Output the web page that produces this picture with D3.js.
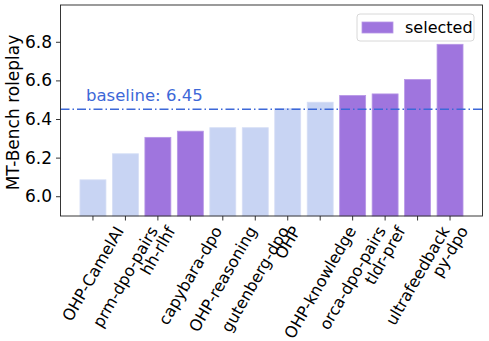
<!DOCTYPE html>
<html>
<head>
<meta charset="utf-8">
<script src="https://cdn.jsdelivr.net/npm/d3@7"></script>
<style>
  body { margin: 0; background: #fff; }
  text { font-family: "DejaVu Sans", sans-serif; }
</style>
</head>
<body>
<script>
(function() {
  var width = 489;
  var height = 341;
  var left = 60.5, right = 482.5, top = 5, bottom = 216;

  var categories = ['OHP-CamelAI', 'prm-dpo-pairs', 'hh-rlhf', 'capybara-dpo', 'OHP-reasoning',
    'gutenberg-dpo', 'OHP', 'OHP-knowledge', 'orca-dpo-pairs', 'tldr-pref', 'ultrafeedback', 'py-dpo'];
  var scores = [6.085, 6.22, 6.305, 6.337, 6.355, 6.355, 6.455, 6.487, 6.522, 6.53, 6.605, 6.787];
  var selected = [false, false, true, true, false, false, false, false, true, true, true, true];
  var yTicks = [6.0, 6.2, 6.4, 6.6, 6.8];
  var baseline = 6.45;

  var purple = '#9f75de';
  var light = '#c8d4f3';
  var blue = '#3d68d8';

  var svg = d3.select('body')
    .append('svg')
    .attr('width', width)
    .attr('height', height);

  var xScale = d3.scaleBand()
    .domain(categories)
    .range([left, right])
    .paddingInner(0.2)
    .paddingOuter(0.6);

  var yScale = d3.scaleLinear()
    .domain([6.08 * 0.97, 6.787 * 1.03])
    .range([bottom, top]);

  // bars
  svg.append('g')
    .selectAll('rect')
    .data(categories)
    .enter()
    .append('rect')
    .attr('x', d => xScale(d))
    .attr('width', xScale.bandwidth())
    .attr('y', (d, i) => yScale(scores[i]))
    .attr('height', (d, i) => bottom - yScale(scores[i]))
    .attr('fill', (d, i) => (selected[i] ? purple : light))
    .attr('stroke', (d, i) => (selected[i] ? '#b797e6' : '#d6def6'))
    .attr('stroke-width', 0.8);

  // baseline
  svg.append('line')
    .attr('x1', left)
    .attr('x2', right)
    .attr('y1', yScale(baseline))
    .attr('y2', yScale(baseline))
    .attr('stroke', blue)
    .attr('stroke-width', 1.5)
    .attr('stroke-dasharray', '9,3,1.5,3');

  svg.append('text')
    .attr('x', 86)
    .attr('y', yScale(baseline) - 8)
    .attr('fill', blue)
    .attr('font-size', 16.5)
    .text('baseline: ' + baseline.toFixed(2));

  // axes
  var yAxis = d3.axisLeft(yScale)
    .tickValues(yTicks)
    .tickFormat(d3.format('.1f'))
    .tickSize(4.5)
    .tickPadding(4);
  var gy = svg.append('g')
    .attr('transform', `translate(${left}, 0)`)
    .call(yAxis);
  gy.select('.domain').remove();
  gy.selectAll('text').attr('font-size', 17).attr('font-family', '"DejaVu Sans", sans-serif').attr('fill', '#000');
  gy.selectAll('line').attr('stroke', '#000').attr('stroke-width', 0.8);

  var xAxis = d3.axisBottom(xScale).tickSize(4.5).tickFormat('');
  var gx = svg.append('g')
    .attr('transform', `translate(0, ${bottom})`)
    .call(xAxis);
  gx.select('.domain').remove();
  gx.selectAll('line').attr('stroke', '#000').attr('stroke-width', 0.8);

  // rotated tick labels, bounding box centred under the tick
  var labelTop = bottom + 4.5 + 3.5;
  var fs = 16;
  var ang = 60 * Math.PI / 180;
  categories.forEach(function(c) {
    var t = svg.append('text')
      .attr('font-size', fs)
      .attr('text-anchor', 'middle')
      .attr('dominant-baseline', 'central')
      .text(c);
    var len = t.node().getComputedTextLength();
    var h = fs * 0.95;
    var bh = len * Math.sin(ang) + h * Math.cos(ang);
    var cx = xScale(c) + xScale.bandwidth() / 2;
    var cy = labelTop + bh / 2;
    t.attr('transform', `translate(${cx}, ${cy}) rotate(-60)`);
  });

  // frame
  svg.append('rect')
    .attr('x', left)
    .attr('y', top)
    .attr('width', right - left)
    .attr('height', bottom - top)
    .attr('fill', 'none')
    .attr('stroke', '#222')
    .attr('stroke-width', 0.9);

  // y label
  svg.append('text')
    .attr('transform', `translate(19, ${(top + bottom) / 2 + 2}) rotate(-90)`)
    .attr('text-anchor', 'middle')
    .attr('font-size', 17)
    .text('MT-Bench roleplay');

  // legend
  var legend = svg.append('g');
  legend.append('rect')
    .attr('x', 357)
    .attr('y', 14)
    .attr('width', 117)
    .attr('height', 27)
    .attr('rx', 3)
    .attr('fill', '#fff')
    .attr('fill-opacity', 0.8)
    .attr('stroke', '#d8d8d8');
  legend.append('rect')
    .attr('x', 362)
    .attr('y', 22)
    .attr('width', 31)
    .attr('height', 11)
    .attr('fill', purple)
    .attr('stroke', '#b797e6')
    .attr('stroke-width', 0.8);
  legend.append('text')
    .attr('x', 405)
    .attr('y', 33)
    .attr('font-size', 16)
    .text('selected');
})();
</script>
</body>
</html>
